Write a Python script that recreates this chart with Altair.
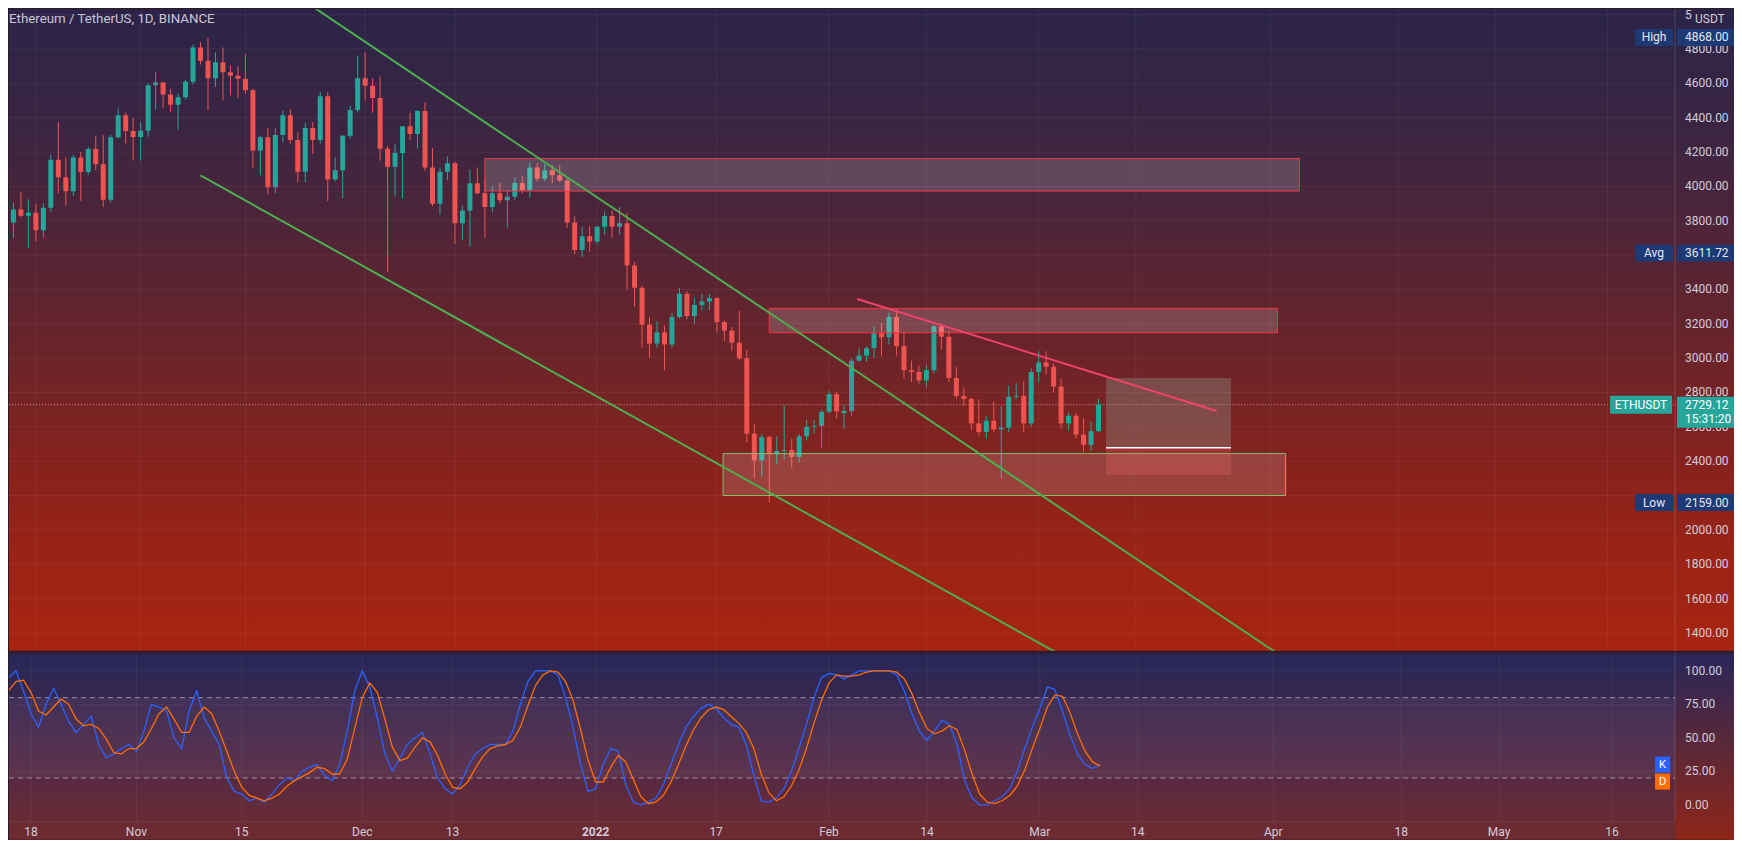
import altair as alt
import pandas as pd

# ----------------------------------------------------------------- data
dates = [d.strftime("%Y-%m-%d") for d in pd.date_range("2021-10-14", "2022-03-09", freq="D")]

opens = [3562, 3790, 3866, 3829, 3847, 3745, 3876, 4155, 4054, 3972, 4168, 4084, 4218, 4130, 3922, 4287, 4414, 4323,
         4288, 4324, 4590, 4605, 4535, 4476, 4520, 4610, 4810, 4732, 4630, 4723, 4665, 4645, 4628, 4560, 4210, 4286, 3995, 4300,
         4415, 4270, 4085, 4340, 4270, 4525, 4040, 4095, 4295, 4445,
         4630, 4586, 4515, 4220, 4115, 4195, 4350, 4305, 4440, 4110, 3900, 4085, 4135, 3785, 3860, 4018, 3960, 3880, 3960, 3920,
         3940, 4020, 3980, 4110, 4045, 4095, 4065, 4035, 3790, 3630, 3710,
         3680, 3765, 3828, 3765, 3785, 3540, 3410, 3195, 3085, 3150, 3080, 3240, 3375, 3245, 3310, 3330, 3350, 3210, 3160, 3090,
         3000, 2560, 2405, 2540, 2440, 2460, 2465, 2425, 2545, 2600, 2605,
         2688, 2790, 2680, 2692, 2985, 3015, 3058, 3145, 3122, 3240, 3070, 2930, 2920, 2870, 2930, 3185, 3125, 2885, 2780, 2763,
         2620, 2570, 2635, 2585, 2595, 2775, 2780, 2620,
         2920, 2975, 2950, 2835, 2620, 2665, 2555, 2495, 2575]
highs = [3815, 3905, 3970, 3925, 3900, 3900, 4185, 4375, 4170, 4185, 4200, 4230, 4295, 4300, 4300, 4460, 4430, 4400,
         4375, 4600, 4665, 4610, 4570, 4540, 4620, 4825, 4840, 4868, 4780, 4810, 4705, 4700, 4770, 4570, 4295, 4340, 4340, 4440,
         4450, 4315, 4370, 4375, 4550, 4550, 4170, 4300, 4470, 4760,
         4780, 4630, 4640, 4235, 4245, 4350, 4430, 4445, 4490, 4225, 4110, 4175, 4145, 3890, 4100, 4110, 4050, 4000, 4020, 3980,
         4050, 4060, 4140, 4135, 4130, 4125, 4125, 4045, 3825, 3765, 3770,
         3770, 3855, 3860, 3880, 3845, 3560, 3420, 3240, 3215, 3190, 3265, 3410, 3390, 3350, 3375, 3375, 3355, 3220, 3180, 3275,
         3050, 2620, 2560, 2550, 2545, 2725, 2530, 2560, 2640, 2640, 2700,
         2810, 2805, 2725, 3000, 3060, 3070, 3185, 3205, 3265, 3285, 3150, 2985, 2960, 2960, 3195, 3190, 3160, 2950, 2830, 2770,
         2760, 2665, 2745, 2720, 2840, 2855, 2865, 2940,
         3040, 3040, 2970, 2880, 2685, 2680, 2650, 2630, 2765]
lows = [3535, 3700, 3820, 3640, 3680, 3700, 3850, 3960, 3890, 3945, 3915, 4070, 4095, 3880, 3905, 4280, 4250, 4150,
        4150, 4290, 4450, 4455, 4435, 4330, 4505, 4595, 4710, 4445, 4580, 4500, 4530, 4515, 4540, 4110, 4065, 3955, 3960, 4255,
        4250, 4025, 4025, 4190, 4250, 3915, 4030, 3930, 4280, 4430,
        4500, 4430, 4150, 3500, 3940, 3930, 4270, 4220, 4090, 3885, 3835, 4035, 3665, 3690, 3650, 3955, 3700, 3850, 3900, 3760,
        3920, 3960, 3935, 4030, 4030, 4020, 4025, 3760, 3605, 3590, 3620,
        3665, 3720, 3700, 3720, 3400, 3300, 3060, 3000, 3060, 2930, 3060, 3230, 3225, 3200, 3280, 3280, 3150, 3100, 3040, 2990,
        2510, 2300, 2310, 2159, 2380, 2410, 2360, 2390, 2520, 2560, 2480,
        2680, 2650, 2590, 2665, 2980, 2980, 3000, 3010, 3080, 3015, 2880, 2860, 2850, 2830, 2910, 3050, 2860, 2765, 2720, 2580,
        2550, 2530, 2570, 2300, 2570, 2760, 2570, 2600,
        2860, 2905, 2800, 2590, 2580, 2530, 2455, 2460, 2570]
closes = [3790, 3866, 3829, 3847, 3745, 3876, 4155, 4054, 3972, 4168, 4084, 4218, 4130, 3922, 4287, 4414, 4323, 4288,
          4324, 4590, 4605, 4535, 4476, 4520, 4610, 4810, 4732, 4630, 4723, 4665, 4645, 4628, 4560, 4210, 4286, 3995, 4300, 4415,
          4270, 4085, 4340, 4270, 4525, 4040, 4095, 4295, 4445, 4630,
          4586, 4515, 4220, 4115, 4195, 4350, 4305, 4440, 4110, 3900, 4085, 4135, 3785, 3860, 4018, 3960, 3880, 3960, 3920, 3940,
          4020, 3980, 4110, 4045, 4095, 4065, 4035, 3790, 3630, 3710, 3680,
          3765, 3828, 3765, 3785, 3540, 3410, 3195, 3085, 3150, 3080, 3240, 3375, 3245, 3310, 3330, 3350, 3210, 3160, 3090, 3000,
          2560, 2405, 2540, 2440, 2460, 2465, 2425, 2545, 2600, 2605, 2688,
          2790, 2690, 2692, 2985, 3015, 3058, 3145, 3122, 3240, 3070, 2930, 2920, 2870, 2930, 3185, 3125, 2885, 2780, 2763, 2620,
          2570, 2635, 2585, 2595, 2775, 2780, 2620, 2920,
          2975, 2950, 2835, 2620, 2665, 2555, 2495, 2575, 2729.12]

stoch_k = [82, 95, 100, 85, 68, 58, 75, 87, 75, 62,
           54, 60, 66, 45, 35, 38, 42, 45, 40, 55,
           75, 73, 70, 50, 42, 70, 85, 65, 55, 45,
           20, 10, 8, 3, 5, 2, 8, 15, 20, 18,
           25, 28, 30, 22, 18, 30, 55, 85, 100, 88,
           65, 38, 25, 35, 45, 50, 54, 38, 20, 12,
           8, 15, 28, 38, 42, 45, 45, 45, 55, 75,
           92, 100, 100, 100, 97, 80, 58, 30, 10, 12,
           30, 42, 40, 15, 2, 0, 2, 5, 15, 30,
           45, 58, 66, 72, 75, 72, 65, 60, 58, 45,
           22, 3, 2, 5, 12, 25, 42, 60, 80, 95,
           98, 97, 94, 97, 100, 100, 100, 100, 100, 97,
           85, 68, 55, 48, 55, 63, 60, 45, 18, 5,
           0, 0, 3, 6, 12, 25, 42, 58, 72, 88,
           86, 70, 52, 38, 30, 27, 30]
stoch_d = [78, 85, 92, 93, 84, 70, 67, 73, 79, 75,
           64, 59, 60, 57, 49, 39, 38, 42, 42, 47,
           57, 68, 73, 64, 54, 54, 66, 73, 68, 55,
           40, 25, 13, 7, 5, 3, 5, 8, 14, 18,
           21, 24, 28, 27, 23, 23, 34, 57, 80, 91,
           84, 64, 43, 33, 35, 43, 50, 47, 37, 23,
           13, 12, 17, 27, 36, 42, 44, 45, 48, 58,
           74, 89, 97, 100, 99, 92, 78, 56, 33, 17,
           17, 28, 37, 32, 19, 6, 1, 2, 7, 17,
           30, 44, 56, 65, 71, 73, 71, 66, 61, 54,
           42, 23, 9, 3, 6, 14, 26, 42, 61, 78,
           91, 97, 96, 96, 97, 99, 100, 100, 100, 99,
           94, 83, 69, 57, 53, 55, 59, 56, 41, 23,
           8, 2, 1, 3, 7, 14, 26, 42, 57, 73,
           82, 81, 69, 53, 40, 32, 29]

price_ticks = [1400, 1600, 1800, 2000, 2200, 2400, 2600, 2800, 3000, 3200, 3400, 3600, 3800, 4000,
               4200, 4400, 4600, 4800, 5000]
hidden_price_labels = [2200, 3600]          # fully covered by the Low / Avg tags in the reference
osc_ticks = [0, 25, 50, 75, 100]
osc_levels = [80, 20]
time_tick_dates = ["2021-10-18", "2021-11-01", "2021-11-15", "2021-12-01", "2021-12-13", "2022-01-01",
                   "2022-01-17", "2022-02-01", "2022-02-14", "2022-03-01", "2022-03-14", "2022-04-01",
                   "2022-04-18", "2022-05-01", "2022-05-16"]
time_tick_labels = ["18", "Nov", "15", "Dec", "13", "2022", "17", "Feb", "14", "Mar", "14", "Apr", "18", "May", "16"]

# drawings (date, price anchors)
channel_upper = [("2021-11-24", 5047), ("2022-04-03", 1248)]
channel_lower = [("2021-11-09", 4064), ("2022-03-04", 1270)]
resistance_line = [("2022-02-04T18:00:00Z", 3345), ("2022-03-24T19:00:00Z", 2692)]
red_zones = [("2021-12-17", "2022-04-04T20:00:00Z", 4163, 3973),
             ("2022-01-24", "2022-04-01T22:00:00Z", 3290, 3148)]
green_zones = [("2022-01-17T20:00:00Z", "2022-04-03", 2444, 2200)]
long_dates = ("2022-03-10", "2022-03-26T17:00:00Z")
long_target, long_entry, long_stop = 2884, 2478, 2320
stat_names = ["High", "Avg", "Low"]
stat_values = [4868.00, 3611.72, 2159.00]
last_price = 2729.12
symbol = "ETHUSDT"
countdown = "15:31:20"
title_text = "Ethereum / TetherUS, 1D, BINANCE"
currency = "USDT"

# ----------------------------------------------------------------- layout / style
PLOT_W, FULL_W = 1667, 1726
PRICE_H, OSC_H, TIME_H = 642, 169, 18
PX_PER_DAY, JAN1_X = 7.533, 587
FONT = "Roboto"
LABEL = "#d1cdd9"
TEAL, RED = "#26a69a", "#ef5350"
NAVY = "#1d3a74"

base = pd.Timestamp("2022-01-01")


def dt(ts):
    return alt.DateTime(year=ts.year, month=ts.month, date=ts.day, hours=ts.hour,
                        minutes=ts.minute, seconds=ts.second, utc=True)


x_start = base + pd.Timedelta(days=-JAN1_X / PX_PER_DAY)
x_end = base + pd.Timedelta(days=(PLOT_W - JAN1_X) / PX_PER_DAY)
xscale = alt.Scale(type="utc", domain=[dt(x_start), dt(x_end)])

P_PX = 0.1718
p_top = 1400 + 624 / P_PX
p_bot = 1400 - (PRICE_H - 624) / P_PX
yP = alt.Scale(domain=[p_bot, p_top], nice=False, zero=False)
yO = alt.Scale(domain=[(152 - OSC_H) / 1.34, 152 / 1.34], nice=False, zero=False)


def X(f):
    return alt.X(f"{f}:T", scale=xscale, axis=None)


def YP(f):
    return alt.Y(f"{f}:Q", scale=yP, axis=None)


def YO(f):
    return alt.Y(f"{f}:Q", scale=yO, axis=None)


def grad(stops):
    return alt.Gradient(gradient="linear", x1=0, x2=0, y1=0, y2=1,
                        stops=[alt.GradientStop(color=c, offset=o) for o, c in stops])


one = pd.DataFrame({"a": [0]})
cdf = pd.DataFrame({"date": dates, "open": opens, "high": highs, "low": lows, "close": closes})
cdf["dir"] = ["up" if c >= o else "down" for o, c in zip(opens, closes)]
odf = pd.DataFrame({"date": dates, "k": stoch_k, "d": stoch_d})
tdf = pd.DataFrame({"date": time_tick_dates, "label": time_tick_labels})
tdf["bold"] = [lab.isdigit() and len(lab) == 4 for lab in time_tick_labels]
pdf = pd.DataFrame({"p": price_ticks})
pldf = pd.DataFrame({"p": [p for p in price_ticks if p not in hidden_price_labels]})
ptdf = pd.DataFrame({"p": osc_ticks})
lvdf = pd.DataFrame({"p": osc_levels})
banddf = pd.DataFrame({"hi": [max(osc_levels)], "lo": [min(osc_levels)]})

rows = []
for name, pts in [("up", channel_upper), ("low", channel_lower)]:
    for d, p in pts:
        rows.append({"line": name, "date": d, "price": p})
gline = pd.DataFrame(rows)
rline = pd.DataFrame([{"line": "r", "date": d, "price": p} for d, p in resistance_line])
rz = pd.DataFrame(red_zones, columns=["d0", "d1", "p0", "p1"])
gz = pd.DataFrame(green_zones, columns=["d0", "d1", "p0", "p1"])
lp_profit = pd.DataFrame({"d0": [long_dates[0]], "d1": [long_dates[1]], "p0": [long_target], "p1": [long_entry]})
lp_loss = pd.DataFrame({"d0": [long_dates[0]], "d1": [long_dates[1]], "p0": [long_entry], "p1": [long_stop]})
stats = pd.DataFrame({"name": stat_names, "p": stat_values})
lastdf = pd.DataFrame({"p": [last_price], "sym": [symbol], "cd": [countdown]})
kdlast = pd.DataFrame({"k": [stoch_k[-1]]})

# ----------------------------------------------------------------- price pane
bgP = alt.Chart(one).mark_rect(color=grad([
    (0, "#2b2448"), (0.2, "#3c2541"), (0.4, "#572434"), (0.55, "#6d2428"),
    (0.7, "#85221e"), (0.85, "#9b2316"), (1, "#a8240f")])).encode(
    x=alt.value(0), x2=alt.value(FULL_W), y=alt.value(0), y2=alt.value(PRICE_H))
gridV = alt.Chart(tdf).mark_rule(color="#ffffff", opacity=0.06).encode(
    x=X("date"), y=alt.value(0), y2=alt.value(PRICE_H))
gridH = alt.Chart(pdf).mark_rule(color="#ffffff", opacity=0.06).encode(
    y=YP("p"), x=alt.value(0), x2=alt.value(PLOT_W))
pline = alt.Chart(lastdf).mark_rule(color="#d8c4c8", strokeDash=[1, 2], opacity=0.75).encode(
    y=YP("p"), x=alt.value(0), x2=alt.value(PLOT_W))
cscale = alt.Scale(domain=["up", "down"], range=[TEAL, RED])
wick = alt.Chart(cdf).mark_rule(strokeWidth=1, clip=True).encode(
    x=X("date"), y=YP("low"), y2="high", color=alt.Color("dir:N", scale=cscale, legend=None))
body = alt.Chart(cdf).mark_bar(size=5, clip=True).encode(
    x=X("date"), y=YP("open"), y2="close", color=alt.Color("dir:N", scale=cscale, legend=None))
rzone = alt.Chart(rz).mark_rect(fill="#ffffff", fillOpacity=0.16, stroke="#f23645", strokeWidth=1).encode(
    x=X("d0"), x2="d1", y=YP("p0"), y2="p1")
gzone = alt.Chart(gz).mark_rect(fill="#ffffff", fillOpacity=0.14, stroke="#7cc36a", strokeWidth=1).encode(
    x=X("d0"), x2="d1", y=YP("p0"), y2="p1")
lprof = alt.Chart(lp_profit).mark_rect(fill="#8fa8a0", fillOpacity=0.3).encode(
    x=X("d0"), x2="d1", y=YP("p0"), y2="p1")
lloss = alt.Chart(lp_loss).mark_rect(fill="#f07070", fillOpacity=0.25).encode(
    x=X("d0"), x2="d1", y=YP("p0"), y2="p1")
lentry = alt.Chart(lp_profit).mark_rule(color="#ffffff", strokeWidth=1.5).encode(
    x=X("d0"), x2="d1", y=YP("p1"))
glines = alt.Chart(gline).mark_line(color="#4caf50", strokeWidth=2, clip=True).encode(
    x=X("date"), y=YP("price"), detail="line:N")
rlines = alt.Chart(rline).mark_line(color="#f0426a", strokeWidth=2, clip=True).encode(
    x=X("date"), y=YP("price"), detail="line:N")
sepP = alt.Chart(one).mark_rule(color="#ffffff", opacity=0.16).encode(
    x=alt.value(PLOT_W), y=alt.value(0), y2=alt.value(PRICE_H))
plabels = alt.Chart(pldf).mark_text(align="left", baseline="middle", font=FONT, fontSize=12, color=LABEL).encode(
    x=alt.value(PLOT_W + 10), y=YP("p"), text=alt.Text("p:Q", format=".2f"))
ucover = alt.Chart(one).mark_rect(color="#2b2448").encode(
    x=alt.value(PLOT_W + 17), x2=alt.value(FULL_W), y=alt.value(0), y2=alt.value(17))
utext = alt.Chart(one).mark_text(align="left", baseline="middle", font=FONT, fontSize=12, color=LABEL).encode(
    x=alt.value(PLOT_W + 20), y=alt.value(10), text=alt.value(currency))
sbox1 = alt.Chart(stats).mark_tick(orient="horizontal", thickness=17, size=38, color=NAVY, opacity=1).encode(
    x=alt.value(1646), y=YP("p"))
sbox2 = alt.Chart(stats).mark_tick(orient="horizontal", thickness=17, size=57, color=NAVY, opacity=1).encode(
    x=alt.value(1697.5), y=YP("p"))
stxt1 = alt.Chart(stats).mark_text(align="center", baseline="middle", font=FONT, fontSize=12, color="#e4e6ee").encode(
    x=alt.value(1646), y=YP("p"), text="name:N")
stxt2 = alt.Chart(stats).mark_text(align="left", baseline="middle", font=FONT, fontSize=12, color="#e4e6ee").encode(
    x=alt.value(PLOT_W + 10), y=YP("p"), text=alt.Text("p:Q", format=".2f"))
ebox1 = alt.Chart(lastdf).mark_tick(orient="horizontal", thickness=18, size=62, color=TEAL, opacity=1).encode(
    x=alt.value(1633), y=YP("p"))
ebox2 = alt.Chart(lastdf).mark_tick(orient="horizontal", thickness=31, size=57, color=TEAL, opacity=1,
                                    yOffset=7.5).encode(x=alt.value(1697.5), y=YP("p"))
etxt1 = alt.Chart(lastdf).mark_text(align="center", baseline="middle", font=FONT, fontSize=12, color="#ffffff").encode(
    x=alt.value(1633), y=YP("p"), text="sym:N")
etxt2 = alt.Chart(lastdf).mark_text(align="left", baseline="middle", font=FONT, fontSize=12, color="#ffffff").encode(
    x=alt.value(PLOT_W + 10), y=YP("p"), text=alt.Text("p:Q", format=".2f"))
etxt3 = alt.Chart(lastdf).mark_text(align="left", baseline="middle", font=FONT, fontSize=12, color="#ffffff",
                                    yOffset=14.5).encode(x=alt.value(PLOT_W + 10), y=YP("p"), text="cd:N")
title = alt.Chart(one).mark_text(align="left", baseline="middle", font=FONT, fontSize=13.3, color="#cbc6d8").encode(
    x=alt.value(0), y=alt.value(9.5), text=alt.value(title_text))

price_chart = alt.layer(
    bgP, gridV, gridH, pline, wick, body, rzone, gzone, lprof, lloss, lentry, glines, rlines,
    sepP, plabels, ucover, utext, sbox1, sbox2, stxt1, stxt2, ebox1, ebox2, etxt1, etxt2, etxt3, title
).properties(width=PLOT_W, height=PRICE_H)

# ----------------------------------------------------------------- oscillator pane
bgO = alt.Chart(one).mark_rect(color=grad([
    (0, "#27275a"), (0.4, "#3e2848"), (0.75, "#572a40"), (1, "#6a2a35")])).encode(
    x=alt.value(0), x2=alt.value(PLOT_W), y=alt.value(0), y2=alt.value(OSC_H))
bgA = alt.Chart(one).mark_rect(color=grad([
    (0, "#29265a"), (0.5, "#5b2838"), (1, "#8e2518")])).encode(
    x=alt.value(PLOT_W), x2=alt.value(FULL_W), y=alt.value(0), y2=alt.value(OSC_H + TIME_H))
bgT = alt.Chart(one).mark_rect(color="#6c2a33").encode(
    x=alt.value(0), x2=alt.value(PLOT_W), y=alt.value(OSC_H), y2=alt.value(OSC_H + TIME_H))
sepTop = alt.Chart(one).mark_rect(color="#33202c").encode(
    x=alt.value(0), x2=alt.value(FULL_W), y=alt.value(0), y2=alt.value(1.5))
gridVO = alt.Chart(tdf).mark_rule(color="#ffffff", opacity=0.06).encode(
    x=X("date"), y=alt.value(0), y2=alt.value(OSC_H))
gridHO = alt.Chart(ptdf).mark_rule(color="#ffffff", opacity=0.05).encode(
    y=YO("p"), x=alt.value(0), x2=alt.value(PLOT_W))
band = alt.Chart(banddf).mark_rect(color="#c8a0e0", opacity=0.08).encode(
    y=YO("hi"), y2="lo", x=alt.value(0), x2=alt.value(PLOT_W))
levels = alt.Chart(lvdf).mark_rule(color="#c8c3d6", strokeDash=[5, 4], opacity=0.65).encode(
    y=YO("p"), x=alt.value(0), x2=alt.value(PLOT_W))
kline = alt.Chart(odf).mark_line(color="#2962ff", strokeWidth=1.3, clip=True).encode(x=X("date"), y=YO("k"))
dline = alt.Chart(odf).mark_line(color="#ff6d00", strokeWidth=1.3, clip=True).encode(x=X("date"), y=YO("d"))
kbox = alt.Chart(kdlast).mark_tick(orient="horizontal", thickness=16, size=15, color="#2962ff", opacity=1).encode(
    x=alt.value(1654.5), y=YO("k"))
dbox = alt.Chart(kdlast).mark_tick(orient="horizontal", thickness=16, size=15, color="#ff6d00", opacity=1,
                                   yOffset=17).encode(x=alt.value(1654.5), y=YO("k"))
ktxt = alt.Chart(kdlast).mark_text(align="center", baseline="middle", font=FONT, fontSize=11, color="#ffffff").encode(
    x=alt.value(1654.5), y=YO("k"), text=alt.value("K"))
dtxt = alt.Chart(kdlast).mark_text(align="center", baseline="middle", font=FONT, fontSize=11, color="#ffffff",
                                   yOffset=17).encode(x=alt.value(1654.5), y=YO("k"), text=alt.value("D"))
olabels = alt.Chart(ptdf).mark_text(align="left", baseline="middle", font=FONT, fontSize=12, color=LABEL).encode(
    x=alt.value(PLOT_W + 10), y=YO("p"), text=alt.Text("p:Q", format=".2f"))
sepO = alt.Chart(one).mark_rule(color="#ffffff", opacity=0.16).encode(
    x=alt.value(PLOT_W), y=alt.value(0), y2=alt.value(OSC_H))
tline = alt.Chart(one).mark_rule(color="#ffffff", opacity=0.1).encode(
    y=alt.value(OSC_H), x=alt.value(0), x2=alt.value(PLOT_W))
tlab = alt.Chart(tdf).transform_filter("!datum.bold").mark_text(
    align="center", baseline="middle", font=FONT, fontSize=12, color=LABEL).encode(
    x=X("date"), y=alt.value(OSC_H + 10), text="label:N")
tlabB = alt.Chart(tdf).transform_filter("datum.bold").mark_text(
    align="center", baseline="middle", font=FONT, fontSize=12, fontWeight="bold", color=LABEL).encode(
    x=X("date"), y=alt.value(OSC_H + 10), text="label:N")

osc_chart = alt.layer(
    bgO, bgA, bgT, sepTop, gridVO, gridHO, band, levels, kline, dline,
    kbox, dbox, ktxt, dtxt, olabels, sepO, tline, tlab, tlabB
).properties(width=PLOT_W, height=OSC_H)

chart = (alt.vconcat(price_chart, osc_chart, spacing=0)
         .properties(padding=0, background="#2a1c28")
         .configure_view(strokeWidth=0))

chart.save("out.html", embed_options={"renderer": "svg", "actions": False})
